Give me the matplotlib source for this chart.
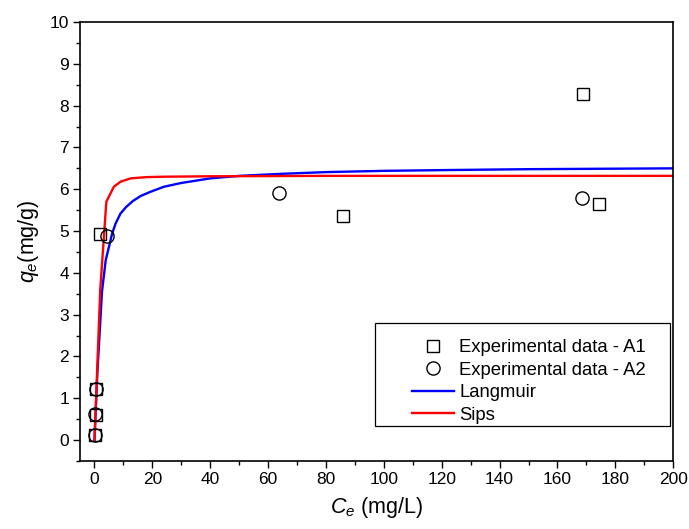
import matplotlib
matplotlib.use("Agg")
import matplotlib.pyplot as plt
from matplotlib.patches import Rectangle
from matplotlib.ticker import MultipleLocator

plt.rcParams['font.family'] = ['Liberation Sans', 'DejaVu Sans']
plt.rcParams['mathtext.fontset'] = 'custom'
plt.rcParams['mathtext.rm'] = 'Liberation Sans'
plt.rcParams['mathtext.it'] = 'Liberation Sans:italic'

# Experimental data
a1_ce = [0.2, 0.5, 0.6, 1.8, 85.8, 168.9, 174.3]
a1_qe = [0.12, 0.60, 1.22, 4.92, 5.36, 8.29, 5.64]
a2_ce = [0.1, 0.1, 0.7, 4.2, 63.9, 168.4]
a2_qe = [0.12, 0.62, 1.22, 4.89, 5.90, 5.78]

# Model curves
lang_ce = [0, 1.0, 2.6, 3.9, 5.0, 6.1, 7.3, 9.0, 11, 13.3, 16, 19.4, 24, 30, 40,
           50, 65, 80, 100, 123, 150, 175, 200]
lang_qe = [0, 1.6, 3.55, 4.31, 4.62, 4.94, 5.18, 5.42, 5.58, 5.72, 5.84, 5.94,
           6.06, 6.15, 6.26, 6.32, 6.37, 6.41, 6.44, 6.46, 6.48, 6.49, 6.50]
sips_ce = [0, 2.0, 4.1, 6.7, 9.0, 12.5, 18, 24, 40, 80, 200]
sips_qe = [0, 3.6, 5.7, 6.06, 6.18, 6.26, 6.29, 6.30, 6.31, 6.32, 6.32]

fig = plt.figure(figsize=(6.89, 5.29), dpi=100)
ax = fig.add_axes([0.1161, 0.1285, 0.861, 0.8299])

l_lang, = ax.plot(lang_ce, lang_qe, color='#0000ff', lw=1.7, zorder=2, label='Langmuir')
l_sips, = ax.plot(sips_ce, sips_qe, color='#ff0000', lw=1.7, zorder=2, label='Sips')
s1, = ax.plot(a1_ce, a1_qe, ls='none', marker='s', ms=8.5, mfc='none', mec='black',
              mew=1.0, zorder=3, label='Experimental data - A1')
s2, = ax.plot(a2_ce, a2_qe, ls='none', marker='o', ms=9.5, mfc='none', mec='black',
              mew=1.0, zorder=3, label='Experimental data - A2')

ax.set_xlim(-5, 200)
ax.set_ylim(-0.5, 10)
ax.xaxis.set_major_locator(MultipleLocator(20))
ax.xaxis.set_minor_locator(MultipleLocator(10))
ax.yaxis.set_major_locator(MultipleLocator(1))
ax.yaxis.set_minor_locator(MultipleLocator(0.5))
ax.tick_params(which='both', direction='out', top=False, right=False, width=1.0,
               labelsize=12.5)
ax.tick_params(which='major', length=5, pad=3)
ax.tick_params(which='minor', length=3)
for sp in ax.spines.values():
    sp.set_linewidth(1.2)

ax.set_xlabel(r'$C_e$ (mg/L)', fontsize=15.5, labelpad=6)
ax.set_ylabel(r'$q_e$(mg/g)', fontsize=15.5, labelpad=6)

ax.add_patch(Rectangle((0.497, 0.08), 0.498, 0.234, transform=ax.transAxes,
                       fill=False, edgecolor='black', lw=0.9, zorder=5))
leg = ax.legend(handles=[s1, s2, l_lang, l_sips], loc='center left',
                bbox_to_anchor=(0.56, 0.181), frameon=False, fontsize=13.3,
                borderpad=0, borderaxespad=0, handlelength=2.25,
                handletextpad=0.3, labelspacing=0.3)

fig.savefig('out.png', dpi=100)
